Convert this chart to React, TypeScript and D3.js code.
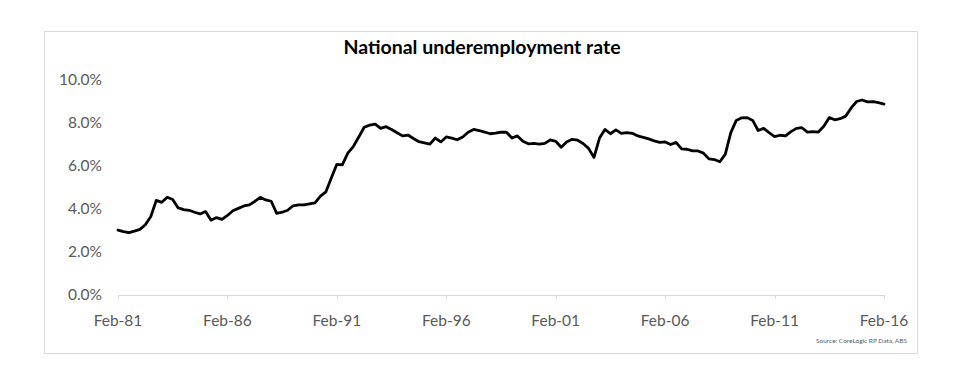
import React from "react";
import * as d3 from "d3";

const title = "National underemployment rate";
const source = "Source: CoreLogic RP Data, ABS";

// Quarterly observations, Feb-81 .. Feb-16 (per cent)
const rates: number[] = [
  3.02, 2.95, 2.9, 2.97, 3.05, 3.27, 3.65, 4.4, 4.31, 4.55,
  4.44, 4.05, 3.97, 3.94, 3.85, 3.77, 3.88, 3.48, 3.6, 3.52,
  3.7, 3.92, 4.03, 4.14, 4.19, 4.35, 4.54, 4.42, 4.36, 3.8,
  3.85, 3.94, 4.15, 4.19, 4.19, 4.24, 4.29, 4.6, 4.8, 5.45,
  6.08, 6.05, 6.6, 6.9, 7.35, 7.8, 7.9, 7.95, 7.75, 7.83,
  7.7, 7.55, 7.4, 7.44, 7.28, 7.13, 7.08, 7.02, 7.3, 7.12,
  7.35, 7.3, 7.22, 7.35, 7.57, 7.7, 7.65, 7.58, 7.5, 7.53,
  7.58, 7.57, 7.3, 7.4, 7.15, 7.03, 7.05, 7.02, 7.05, 7.21,
  7.15, 6.87, 7.12, 7.24, 7.2, 7.05, 6.82, 6.4, 7.3, 7.7,
  7.5, 7.68, 7.52, 7.55, 7.52, 7.4, 7.33, 7.26, 7.17, 7.1,
  7.12, 7.0, 7.1, 6.8, 6.78, 6.7, 6.7, 6.6, 6.33, 6.3,
  6.2, 6.55, 7.55, 8.12, 8.24, 8.25, 8.12, 7.65, 7.75, 7.55,
  7.37, 7.43, 7.4, 7.6, 7.75, 7.78, 7.58, 7.6, 7.58, 7.85,
  8.25, 8.15, 8.2, 8.32, 8.7, 9.0, 9.07, 8.98, 8.99, 8.95,
  8.88,
];

const startYear = 1981;
const xTickLabels = ["Feb-81", "Feb-86", "Feb-91", "Feb-96", "Feb-01", "Feb-06", "Feb-11", "Feb-16"];
const xTickYears = [1981, 1986, 1991, 1996, 2001, 2006, 2011, 2016];
const yTicks = [0, 2, 4, 6, 8, 10];

export default function App() {
  const W = 962;
  const H = 380;
  const left = 118;
  const right = 884;
  const top = 80;
  const bottom = 295;

  const x = d3.scaleLinear().domain([startYear, 2016]).range([left, right]);
  const y = d3.scaleLinear().domain([0, 10]).range([bottom, top]);

  const pts = rates.map((v, i) => ({ t: startYear + i / 4, v }));
  const line = d3
    .line<{ t: number; v: number }>()
    .x((d) => x(d.t))
    .y((d) => y(d.v));

  const labelColor = "#595959";
  const font = "Lato, 'Open Sans', sans-serif";

  return (
    <svg
      width={W}
      height={H}
      style={{ position: "absolute", left: 0, top: 0, background: "#fff" }}
    >
      <rect x={0} y={0} width={W} height={H} fill="#fff" />
      <rect x={44.5} y={31.5} width={873} height={322} fill="#fff" stroke="#d9d9d9" strokeWidth={1} />
      <text
        x={482}
        y={54}
        textAnchor="middle"
        fontFamily={font}
        fontWeight="bold"
        fontSize={19.5}
        fill="#000"
      >
        {title}
      </text>
      {yTicks.map((t) => (
        <text
          key={t}
          x={102}
          y={y(t)}
          dy="0.35em"
          textAnchor="end"
          fontFamily={font}
          fontSize={15.5}
          fill={labelColor}
        >
          {t.toFixed(1) + "%"}
        </text>
      ))}
      <line x1={left} x2={right} y1={bottom + 0.5} y2={bottom + 0.5} stroke="#d9d9d9" strokeWidth={1} />
      {xTickYears.map((yr, i) => (
        <g key={yr}>
          <line
            x1={Math.round(x(yr)) + 0.5}
            x2={Math.round(x(yr)) + 0.5}
            y1={bottom}
            y2={bottom + 4}
            stroke="#d9d9d9"
          />
          <text
            x={x(yr)}
            y={321}
            dy="0.35em"
            textAnchor="middle"
            fontFamily={font}
            fontSize={15.5}
            fill={labelColor}
          >
            {xTickLabels[i]}
          </text>
        </g>
      ))}
      <path
        d={line(pts) || ""}
        fill="none"
        stroke="#000"
        strokeWidth={2.8}
        strokeLinejoin="round"
        strokeLinecap="round"
      />
      <text
        x={907}
        y={343}
        textAnchor="end"
        fontFamily={font}
        fontSize={6.5}
        fill={labelColor}
      >
        {source}
      </text>
    </svg>
  );
}
